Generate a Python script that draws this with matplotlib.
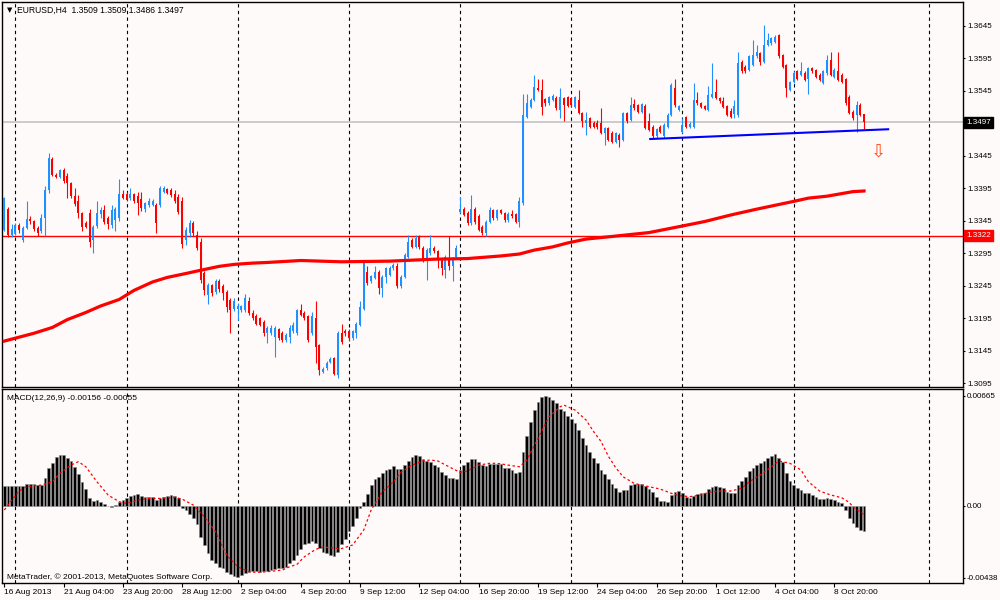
import numpy as np
import matplotlib
matplotlib.use("Agg")
import matplotlib.pyplot as plt
from matplotlib.transforms import blended_transform_factory

plt.rcParams["font.family"] = ["Liberation Sans", "DejaVu Sans"]

BG = "#FFFAFA"
UP = "#1E90FF"
DOWN = "#FF0000"

# EURUSD H4 bars from 16 Aug 2013 12:00, prices in pips above 1.3000
opens = [
    331, 364, 324, 325, 339, 316, 334, 348, 345, 334,
    330, 350, 392, 440, 416, 413, 424, 414, 403, 383,
    375, 357, 342, 357, 316, 337, 355, 362, 350, 338,
    346, 350, 387, 386, 380, 386, 384, 379, 364, 369,
    370, 369, 369, 390, 394, 392, 387, 382, 375, 316,
    326, 342, 323, 313, 265, 231, 246, 236, 252, 244,
    236, 223, 210, 210, 208, 208, 221, 203, 199, 195,
    190, 172, 172, 167, 178, 172, 162, 167, 175, 172,
    208, 203, 198, 172, 195, 154, 113, 118, 128, 134,
    108, 172, 176, 175, 164, 172, 185, 210, 267, 252,
    257, 267, 241, 259, 262, 272, 275, 244, 259, 290,
    316, 305, 322, 303, 285, 295, 303, 298, 285, 269,
    287, 275, 290, 359, 364, 357, 341, 364, 352, 336,
    326, 344, 361, 349, 361, 357, 346, 356, 355, 344,
    372, 505, 521, 531, 549, 547, 532, 527, 531, 534,
    516, 534, 535, 534, 521, 531, 511, 495, 503, 496,
    495, 496, 480, 488, 481, 467, 477, 470, 511, 500,
    525, 523, 513, 522, 498, 490, 475, 490, 475, 490,
    508, 549, 516, 482, 505, 490, 490, 531, 526, 522,
    516, 536, 544, 534, 529, 522, 514, 510, 508, 590,
    582, 577, 585, 598, 603, 590, 616, 618, 621, 631,
    600, 585, 547, 559, 575, 570, 573, 564, 580, 577,
    570, 557, 572, 593, 567, 575, 570, 563, 536, 513,
    508, 523, 509,
]
highs = [
    382, 366, 340, 342, 341, 337, 375, 352, 347, 337,
    355, 398, 450, 443, 418, 425, 427, 418, 405, 395,
    385, 359, 345, 363, 338, 375, 366, 370, 352, 370,
    366, 409, 392, 390, 396, 388, 390, 390, 374, 380,
    378, 372, 398, 398, 396, 395, 392, 386, 382, 335,
    346, 345, 330, 318, 268, 250, 248, 256, 256, 248,
    238, 226, 226, 218, 216, 232, 228, 208, 201, 197,
    192, 183, 185, 183, 180, 175, 173, 185, 190, 210,
    217, 206, 200, 205, 221, 156, 120, 129, 136, 136,
    176, 187, 178, 178, 177, 190, 221, 284, 275, 262,
    275, 270, 262, 274, 275, 280, 280, 262, 295, 323,
    318, 323, 323, 306, 303, 323, 306, 300, 288, 293,
    321, 290, 308, 382, 366, 360, 385, 366, 355, 338,
    346, 367, 364, 363, 363, 359, 359, 362, 357, 382,
    541, 541, 534, 570, 563, 563, 534, 537, 540, 537,
    549, 536, 537, 536, 537, 547, 513, 513, 505, 498,
    500, 518, 490, 490, 483, 482, 480, 513, 513, 536,
    532, 525, 527, 525, 511, 492, 488, 492, 495, 511,
    557, 563, 523, 503, 506, 497, 557, 544, 528, 524,
    553, 588, 563, 536, 536, 524, 518, 531, 605, 593,
    585, 600, 623, 616, 605, 647, 634, 628, 631, 633,
    602, 587, 561, 575, 577, 590, 575, 582, 582, 579,
    572, 577, 600, 605, 580, 605, 572, 565, 538, 515,
    529, 526, 509,
]
lows = [
    329, 320, 320, 323, 327, 313, 332, 340, 330, 322,
    326, 322, 388, 414, 411, 411, 404, 380, 380, 368,
    350, 330, 334, 305, 295, 334, 350, 340, 332, 334,
    330, 345, 378, 375, 377, 372, 354, 360, 358, 366,
    368, 326, 366, 388, 386, 382, 372, 355, 303, 308,
    320, 322, 300, 250, 231, 217, 230, 233, 236, 223,
    205, 172, 207, 192, 205, 205, 200, 192, 185, 183,
    168, 157, 170, 136, 162, 158, 159, 157, 172, 170,
    198, 192, 158, 170, 126, 108, 111, 116, 126, 108,
    103, 156, 168, 160, 161, 164, 183, 208, 246, 250,
    255, 233, 228, 249, 260, 270, 242, 242, 257, 288,
    303, 303, 302, 282, 254, 292, 295, 272, 262, 257,
    270, 253, 287, 357, 352, 338, 339, 340, 329, 324,
    322, 341, 347, 347, 355, 344, 344, 350, 341, 335,
    370, 503, 518, 529, 545, 508, 522, 524, 529, 516,
    503, 498, 520, 521, 519, 509, 490, 477, 488, 488,
    487, 479, 462, 468, 465, 465, 459, 468, 496, 498,
    516, 511, 511, 486, 483, 472, 473, 480, 473, 488,
    506, 521, 514, 480, 488, 488, 488, 524, 519, 515,
    514, 534, 532, 527, 519, 506, 503, 503, 505, 572,
    573, 575, 583, 596, 585, 588, 614, 616, 619, 596,
    580, 536, 545, 557, 562, 568, 560, 540, 573, 565,
    560, 555, 570, 568, 565, 560, 557, 524, 509, 501,
    482, 506, 486,
]
closes = [
    380, 323, 332, 339, 331, 334, 348, 345, 332, 326,
    350, 392, 441, 416, 413, 423, 406, 403, 383, 371,
    357, 336, 336, 313, 336, 357, 362, 344, 340, 362,
    364, 387, 380, 377, 386, 376, 372, 365, 372, 376,
    375, 342, 395, 395, 388, 385, 375, 359, 310, 331,
    342, 326, 303, 254, 239, 246, 234, 252, 240, 234,
    212, 208, 221, 214, 214, 226, 203, 195, 187, 185,
    172, 180, 180, 180, 164, 162, 170, 180, 185, 208,
    200, 195, 162, 198, 151, 116, 117, 127, 132, 110,
    172, 159, 172, 164, 175, 187, 213, 282, 249, 260,
    267, 241, 259, 272, 272, 277, 244, 259, 293, 313,
    305, 318, 305, 285, 300, 303, 298, 285, 272, 290,
    275, 287, 303, 363, 354, 341, 364, 344, 331, 326,
    344, 362, 349, 361, 357, 346, 356, 353, 344, 375,
    508, 526, 531, 551, 547, 521, 526, 535, 537, 518,
    536, 523, 522, 523, 535, 511, 498, 500, 490, 490,
    490, 481, 488, 470, 467, 480, 470, 511, 498, 523,
    518, 513, 525, 488, 485, 475, 486, 482, 493, 508,
    554, 523, 522, 493, 490, 494, 531, 526, 521, 517,
    539, 541, 534, 529, 521, 508, 505, 522, 588, 575,
    575, 598, 600, 605, 590, 616, 623, 626, 628, 598,
    582, 549, 559, 573, 564, 575, 562, 580, 575, 567,
    562, 575, 593, 570, 577, 562, 559, 526, 511, 503,
    523, 508, 497,
]

# moving average (red thick line), read at these bars
ma_idx = [0, 8, 13, 17, 22, 26, 31, 35, 40, 44, 49, 53, 58, 62, 67, 71, 80,
          91, 104, 116, 125, 134, 139, 143, 148, 152, 157, 164, 174, 182,
          189, 196, 203, 208, 213, 217, 222, 229, 232]
ma_val = [1.3160, 1.3172, 1.3181, 1.3193, 1.3204, 1.3214, 1.3224, 1.3238,
          1.3251, 1.3258, 1.3264, 1.3269, 1.3275, 1.3278, 1.3280, 1.3281,
          1.3284, 1.3282, 1.3283, 1.3286, 1.3287, 1.3291, 1.3294, 1.3300,
          1.3305, 1.3311, 1.3317, 1.3321, 1.3327, 1.3336, 1.3344, 1.3354,
          1.3363, 1.3369, 1.3375, 1.3380, 1.3383, 1.3390, 1.3391]

# MACD histogram, units of 0.00001
macd_hist = [
    119, 119, 119, 119, 119, 119, 129, 131, 129, 125,
    125, 166, 230, 261, 297, 307, 307, 291, 271, 236,
    190, 145, 101, 48, 28, 32, 24, 8, -4, -8,
    2, 20, 36, 48, 61, 65, 69, 59, 53, 53,
    51, 34, 48, 55, 61, 65, 61, 48, -12, -26,
    -53, -77, -113, -188, -238, -289, -329, -349, -370, -380,
    -404, -415, -425, -430, -420, -405, -400, -398, -398, -400,
    -398, -396, -390, -386, -380, -380, -370, -349, -329, -300,
    -265, -235, -228, -215, -225, -259, -279, -289, -299, -305,
    -279, -234, -202, -154, -121, -77, -12, 20, 69, 125,
    160, 172, 196, 216, 222, 240, 222, 222, 246, 271,
    297, 307, 303, 283, 271, 263, 246, 236, 202, 186,
    170, 170, 160, 216, 246, 263, 283, 283, 263, 246,
    242, 250, 250, 255, 250, 230, 226, 216, 200, 206,
    323, 424, 505, 580, 630, 660, 665, 660, 640, 620,
    586, 574, 545, 525, 499, 459, 412, 368, 327, 291,
    257, 216, 190, 162, 129, 105, 85, 95, 95, 125,
    133, 133, 133, 119, 101, 85, 55, 28, 28, 24,
    65, 85, 89, 75, 55, 48, 61, 69, 75, 75,
    101, 113, 121, 115, 105, 81, 75, 75, 125, 152,
    176, 210, 230, 246, 257, 271, 291, 303, 311, 287,
    267, 196, 149, 125, 109, 95, 75, 75, 65, 55,
    40, 40, 44, 40, 34, 24, 14, -26, -77, -107,
    -127, -147, -156,
]
sig_idx = [0, 2, 4, 6, 10, 13, 15, 18, 20, 22, 25, 28, 31, 33, 36, 39, 42,
           46, 48, 51, 54, 57, 60, 63, 66, 68, 71, 75, 77, 79, 81, 84, 86,
           88, 91, 94, 97, 99, 102, 105, 107, 110, 113, 115, 117, 120, 123,
           125, 128, 131, 133, 136, 139, 141, 144, 147, 150, 151, 154, 157,
           159, 161, 163, 165, 167, 170, 174, 177, 180, 182, 185, 188, 190,
           193, 196, 199, 201, 204, 207, 209, 212, 215, 217, 220, 223, 226,
           228, 229, 232]
sig_val = [-26, 34, 89, 115, 125, 145, 196, 246, 267, 236, 145, 65, 24, 14,
           34, 44, 44, 51, 40, 4, -67, -158, -299, -370, -400, -404, -400,
           -390, -370, -355, -309, -265, -250, -255, -260, -238, -147, -26,
           85, 145, 202, 246, 271, 277, 271, 236, 202, 210, 246, 257, 257,
           246, 236, 277, 408, 539, 600, 610, 580, 519, 450, 390, 300, 230,
           175, 135, 115, 101, 75, 61, 55, 65, 81, 89, 89, 105, 145, 186,
           236, 271, 257, 216, 145, 89, 65, 48, 20, -6, -55]

bid_price = 1.3497
level_price = 1.3322
trend_x = [174.3, 238.5]
trend_y = [1.3471, 1.3486]
arrow_x, arrow_y = 235.8, 1.3452

grid_idx = [3, 33, 63, 93, 123, 153, 183, 213, 249.5]
label_idx = [0, 16, 32, 48, 64, 80, 96, 112, 128, 144, 160, 176, 192, 208, 224]
date_labels = ["16 Aug 2013", "21 Aug 04:00", "23 Aug 20:00", "28 Aug 12:00",
               "2 Sep 04:00", "4 Sep 20:00", "9 Sep 12:00", "12 Sep 04:00",
               "16 Sep 20:00", "19 Sep 12:00", "24 Sep 04:00", "26 Sep 20:00",
               "1 Oct 12:00", "4 Oct 04:00", "8 Oct 20:00"]
price_ticks = [1.3645, 1.3595, 1.3545, 1.3445, 1.3395, 1.3345, 1.3295,
               1.3245, 1.3195, 1.3145, 1.3095]
macd_ticks = [0.00665, 0.0, -0.00438]
macd_tick_labels = ["0.00665", "0.00", "-0.00438"]

FS = 6.0

o = 1.3 + np.array(opens) / 10000
h = 1.3 + np.array(highs) / 10000
l = 1.3 + np.array(lows) / 10000
c = 1.3 + np.array(closes) / 10000
x = np.arange(len(closes))

fig = plt.figure(figsize=(10, 6), dpi=100, facecolor=BG)
ax = fig.add_axes([0.002, 0.355, 0.961, 0.6417], facecolor=BG)
ax2 = fig.add_axes([0.002, 0.0283, 0.961, 0.3234], facecolor=BG)

for a in (ax, ax2):
    a.set_xlim(-0.62, 258.7)
    for g in grid_idx:
        a.axvline(g, color="black", lw=0.8, ls=(0, (3, 3)), zorder=1)
    for s in a.spines.values():
        s.set_linewidth(1.0)
        s.set_color("black")

# candles
colors = np.where(c >= o, UP, DOWN)
ax.vlines(x, l, h, colors=colors, lw=0.8, zorder=3)
body = np.maximum(np.abs(c - o), 0.00006)
ax.bar(x, body, bottom=np.minimum(o, c), width=0.55, color=colors, lw=0, zorder=4)

ax.plot(ma_idx, ma_val, color=DOWN, lw=2.3, zorder=5)
ax.axhline(bid_price, color="#C8C8C8", lw=1.3, zorder=2)
ax.axhline(level_price, color=DOWN, lw=1.0, zorder=2)
ax.plot(trend_x, trend_y, color="#0000FF", lw=1.5, zorder=6)
ax.text(arrow_x, arrow_y, "\u21e9", color="#FF4A1A", fontsize=13,
        ha="center", va="center", family="DejaVu Sans", zorder=6)

ax.set_ylim(1.30893, 1.36819)
ax.yaxis.tick_right()
ax.set_yticks(price_ticks)
ax.set_yticklabels([f"{v:.4f}" for v in price_ticks])
ax.tick_params(axis="y", direction="out", length=1.5, pad=1.5, labelsize=5.8)
ax.tick_params(axis="x", bottom=False, labelbottom=False)

tr = blended_transform_factory(ax.transAxes, ax.transData)
ax.text(1.0035, bid_price, f"{bid_price:.4f}", transform=tr, fontsize=5.8,
        color="white", va="center", ha="left",
        bbox=dict(boxstyle="square,pad=0.25", fc="black", ec="black"))
ax.text(1.0035, level_price, f"{level_price:.4f}", transform=tr, fontsize=5.8,
        color="white", va="center", ha="left",
        bbox=dict(boxstyle="square,pad=0.25", fc=DOWN, ec=DOWN))

# MACD
hist = np.array(macd_hist) / 1e5
ax2.bar(x, hist, width=0.72, color="black", edgecolor="#8c8c8c", lw=0.4, zorder=3)
ax2.plot(sig_idx, np.array(sig_val) / 1e5, color="red", lw=0.9,
         ls=(0, (2, 2)), zorder=4)
ax2.set_ylim(-0.004686, 0.007075)
ax2.yaxis.tick_right()
ax2.set_yticks(macd_ticks)
ax2.set_yticklabels(macd_tick_labels)
ax2.tick_params(axis="y", direction="out", length=1.5, pad=1.2, labelsize=5.8)
ax2.set_xticks(label_idx)
ax2.set_xticklabels(date_labels, ha="left", fontsize=FS)
ax2.tick_params(axis="x", direction="out", length=3, pad=1)

fig.text(0.007, 1 - 10 / 600, "\u25bc", fontsize=5, va="center", family="DejaVu Sans")
fig.text(0.017, 1 - 10 / 600, "EURUSD,H4  1.3509 1.3509 1.3486 1.3497",
         fontsize=6.2, va="center")
fig.text(0.007, 1 - 398 / 600, "MACD(12,26,9) -0.00156 -0.00055",
         fontsize=FS, va="center")
fig.text(0.007, 1 - 577 / 600, "MetaTrader, \u00a9 2001-2013, MetaQuotes Software Corp.",
         fontsize=FS, va="center")

fig.savefig("out.png", dpi=100, facecolor=BG)
